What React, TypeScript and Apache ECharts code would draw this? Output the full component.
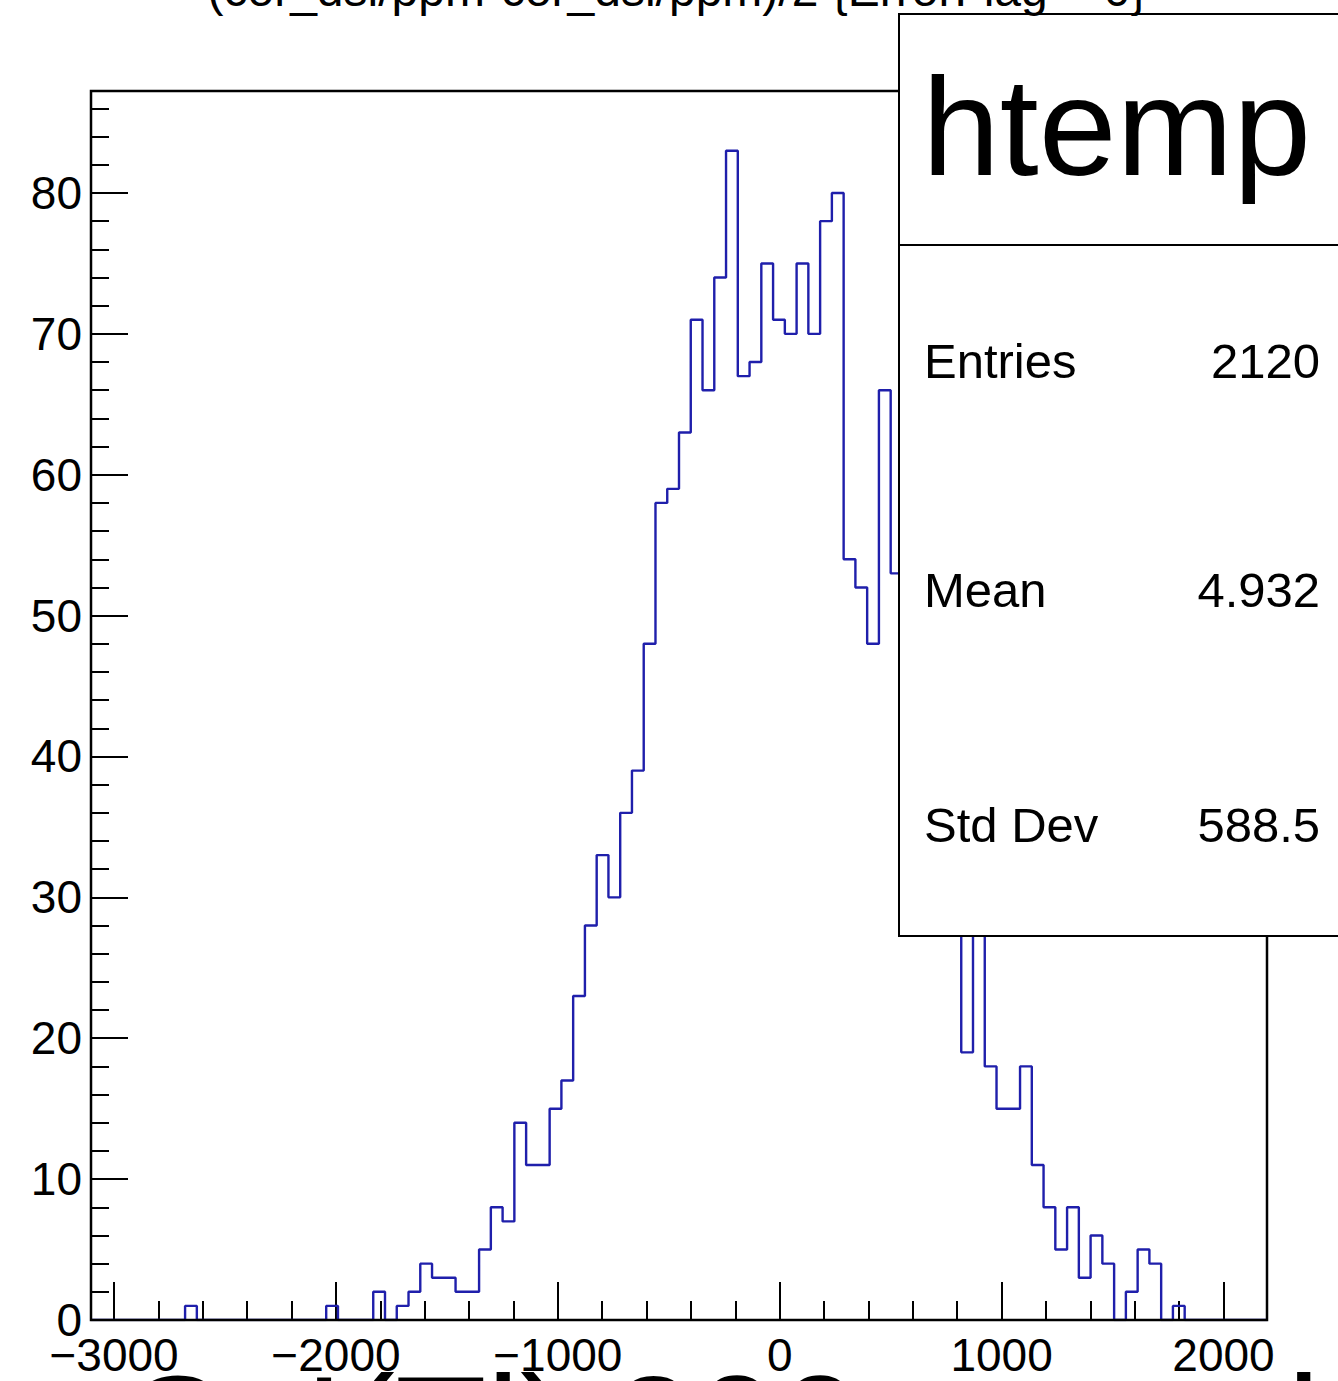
import React, { useEffect, useRef } from "react";
import * as echarts from "echarts";

// ---- data ----
const X_MIN = -3104;
const X_MAX = 2196;
const BIN_WIDTH = 53;
const Y_MAX = 87.24;

// 100 bin counts (bins hidden behind the stats box are estimated)
const COUNTS = [
  0, 0, 0, 0, 0, 0, 0, 0, 1, 0,
  0, 0, 0, 0, 0, 0, 0, 0, 0, 0,
  1, 0, 0, 0, 2, 0, 1, 2, 4, 3,
  3, 2, 2, 5, 8, 7, 14, 11, 11, 15,
  17, 23, 28, 33, 30, 36, 39, 48, 58, 59,
  63, 71, 66, 74, 83, 67, 68, 75, 71, 70,
  75, 70, 78, 80, 54, 52, 48, 66, 53, 34,
  36, 38, 40, 41, 19, 42, 18, 15, 15, 18,
  11, 8, 5, 8, 3, 6, 4, 0, 2, 5,
  4, 0, 1, 0, 0, 0, 0, 0, 0, 0,
];

const X_MAJOR = [-3000, -2000, -1000, 0, 1000, 2000];
const X_MINOR = [
  -2800, -2600, -2400, -2200, -1800, -1600, -1400, -1200, -800, -600, -400, -200,
  200, 400, 600, 800, 1200, 1400, 1600, 1800,
];
const Y_MAJOR = [0, 10, 20, 30, 40, 50, 60, 70, 80];
const Y_MINOR = [
  2, 4, 6, 8, 12, 14, 16, 18, 22, 24, 26, 28, 32, 34, 36, 38, 42, 44, 46, 48,
  52, 54, 56, 58, 62, 64, 66, 68, 72, 74, 76, 78, 82, 84, 86,
];

const TITLE = "(cor_dsl/ppm-cor_dsl/ppm)/2 {ErrorFlag==0}";
const X_TITLE = "CsI(Tl) 200 ppm d";
const STATS_NAME = "htemp";
const STATS_LABELS = ["Entries", "Mean", "Std Dev"];
const STATS_VALUES = ["2120", "4.932", "588.5"];

const FONT = "'Liberation Sans', Arial, Helvetica, sans-serif";
const LINE_COLOR = "#1f1fab";

const fmt = (v: number) => (v < 0 ? "\u2212" + Math.abs(v) : String(v));

export default function App() {
  const ref = useRef<HTMLDivElement>(null);

  useEffect(() => {
    if (!ref.current) return;
    const chart = echarts.init(ref.current, undefined, { renderer: "svg" });

    const lineData: number[][] = COUNTS.map((c, i) => [X_MIN + i * BIN_WIDTH, c]);
    lineData.push([X_MIN + COUNTS.length * BIN_WIDTH, COUNTS[COUNTS.length - 1]]);

    const GL = 91, GT = 91, GW = 1176, GH = 1229;

    const tickStyle = { color: "#000", width: 2 };
    const hiddenLine = { show: false, onZero: false };

    const statsY = [361, 590, 825];

    const option: any = {
      animation: false,
      backgroundColor: "#fff",
      grid: { left: GL, top: GT, width: GW, height: GH, containLabel: false },
      xAxis: [
        {
          type: "value",
          min: X_MIN,
          max: X_MAX,
          position: "bottom",
          axisLine: hiddenLine,
          splitLine: { show: false },
          axisTick: { show: true, inside: true, length: 38, lineStyle: tickStyle, customValues: X_MAJOR },
          axisLabel: {
            show: true,
            customValues: X_MAJOR,
            formatter: (v: number) => fmt(v),
            fontSize: 46,
            color: "#000",
            fontFamily: FONT,
            margin: 35,
            verticalAlign: "middle",
          },
        },
        {
          type: "value",
          min: X_MIN,
          max: X_MAX,
          position: "bottom",
          axisLine: hiddenLine,
          splitLine: { show: false },
          axisTick: { show: true, inside: true, length: 19, lineStyle: tickStyle, customValues: X_MINOR },
          axisLabel: { show: false },
        },
      ],
      yAxis: [
        {
          type: "value",
          min: 0,
          max: Y_MAX,
          position: "left",
          axisLine: hiddenLine,
          splitLine: { show: false },
          axisTick: { show: true, inside: true, length: 37, lineStyle: tickStyle, customValues: Y_MAJOR },
          axisLabel: {
            show: true,
            customValues: Y_MAJOR,
            formatter: (v: number) => String(v),
            fontSize: 46,
            color: "#000",
            fontFamily: FONT,
            margin: 9,
          },
        },
        {
          type: "value",
          min: 0,
          max: Y_MAX,
          position: "left",
          axisLine: hiddenLine,
          splitLine: { show: false },
          axisTick: { show: true, inside: true, length: 18, lineStyle: tickStyle, customValues: Y_MINOR },
          axisLabel: { show: false },
        },
      ],
      series: [
        {
          type: "line",
          step: "end",
          xAxisIndex: 0,
          yAxisIndex: 0,
          data: lineData,
          symbol: "none",
          lineStyle: { color: LINE_COLOR, width: 2.4 },
          z: 5,
        },
      ],
      graphic: [
        {
          type: "rect",
          z: 50,
          shape: { x: GL, y: GT, width: GW, height: GH },
          style: { fill: "none", stroke: "#000", lineWidth: 2.5 },
          silent: true,
        },
        {
          type: "rect",
          z: 60,
          shape: { x: 899, y: 14, width: 480, height: 922 },
          style: { fill: "#fff", stroke: "#000", lineWidth: 2 },
          silent: true,
        },
        {
          type: "line",
          z: 61,
          shape: { x1: 899, y1: 245, x2: 1400, y2: 245 },
          style: { stroke: "#000", lineWidth: 2 },
          silent: true,
        },
        {
          type: "text",
          z: 62,
          x: 922,
          y: 126,
          style: {
            text: STATS_NAME,
            fontSize: 140,
            fontFamily: FONT,
            fill: "#000",
            textAlign: "left",
            verticalAlign: "middle",
          },
        },
        ...STATS_LABELS.map((t, i) => ({
          type: "text",
          z: 62,
          x: 924,
          y: statsY[i],
          style: {
            text: t,
            fontSize: 49,
            fontFamily: FONT,
            fill: "#000",
            textAlign: "left",
            verticalAlign: "middle",
          },
        })),
        ...STATS_VALUES.map((t, i) => ({
          type: "text",
          z: 62,
          x: 1320,
          y: statsY[i],
          style: {
            text: t,
            fontSize: 49,
            fontFamily: FONT,
            fill: "#000",
            textAlign: "right",
            verticalAlign: "middle",
          },
        })),
        {
          type: "text",
          z: 70,
          x: 677,
          y: -11,
          style: {
            text: TITLE,
            fontSize: 48,
            fontFamily: FONT,
            fill: "#000",
            textAlign: "center",
            verticalAlign: "middle",
          },
        },
        {
          type: "text",
          z: 70,
          x: 120,
          y: 1429,
          style: {
            text: X_TITLE,
            fontSize: 150,
            fontFamily: FONT,
            fill: "#000",
            textAlign: "left",
            verticalAlign: "middle",
          },
        },
      ],
    };

    chart.setOption(option);
    return () => chart.dispose();
  }, []);

  return (
    <div
      ref={ref}
      style={{ position: "absolute", left: 0, top: 0, width: 1338, height: 1381, overflow: "hidden" }}
    />
  );
}
